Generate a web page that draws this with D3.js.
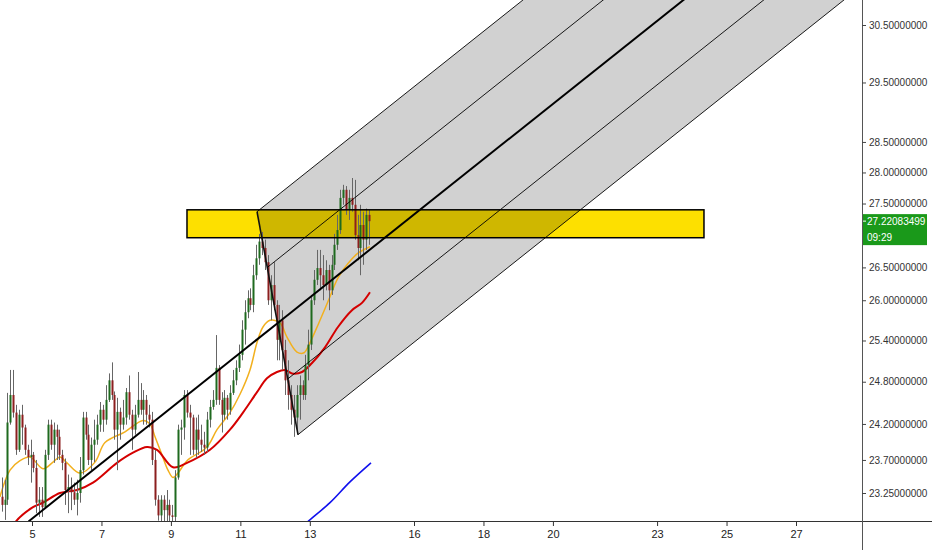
<!DOCTYPE html>
<html><head><meta charset="utf-8">
<script src="https://cdn.jsdelivr.net/npm/d3@7"></script>
<style>
body{margin:0;background:#fff;}
svg{display:block;}
.lbl{font-family:"Liberation Sans","DejaVu Sans",sans-serif;font-size:10px;}
</style>
</head><body>
<svg id="chart" width="932" height="550"></svg>
<script>
// ---------- DATA ----------
const startDay = 4.125;          // first candle (day of month)
const stepDay = 1 / 12;          // 2h candles
const opens = [23.20,23.09,23.16,24.22,24.61,24.36,23.84,24.33,24.15,23.84,
23.74,23.77,23.59,23.12,23.16,23.06,23.77,24.19,23.91,24.12,
24.02,23.77,23.66,23.29,23.33,23.26,23.16,23.25,23.56,24.29,
24.05,23.70,23.91,23.98,24.19,24.40,24.26,24.54,24.82,24.61,
24.12,24.37,24.19,24.29,24.65,24.33,24.12,24.33,24.54,24.40,
24.54,24.33,24.26,23.70,23.16,22.95,23.16,23.02,23.09,22.95,
22.93,23.46,24.12,24.15,24.61,24.36,24.29,23.84,24.12,23.98,
23.91,23.87,24.26,24.44,24.54,25.00,24.54,24.33,24.57,24.40,
24.64,24.82,25.00,25.19,25.56,25.82,26.03,25.93,26.38,26.64,
26.90,26.80,26.58,26.00,26.23,25.93,25.41,25.70,25.26,24.82,
24.61,24.40,24.29,24.61,24.75,24.61,25.04,25.34,26.00,26.31,
26.49,26.38,26.23,26.46,26.15,26.54,26.85,27.08,27.59,27.72,
27.40,27.59,27.48,27.00,26.80,27.16,26.93,27.32];
const highs = [23.46,23.43,24.64,24.97,24.97,24.47,24.40,24.47,24.19,23.91,
23.98,23.81,23.70,23.33,23.33,23.84,24.26,24.26,24.22,24.19,
24.12,23.84,23.72,23.50,23.46,23.39,23.43,23.74,24.37,24.37,
24.19,24.01,24.26,24.33,24.51,24.47,24.75,24.92,25.08,24.66,
24.57,24.43,24.54,24.71,24.89,24.40,24.47,24.94,24.78,24.68,
24.61,24.47,24.37,23.84,23.22,23.22,23.22,23.29,23.16,23.09,
23.56,24.19,24.26,24.68,24.68,24.47,24.33,24.29,24.33,24.19,
24.09,24.37,24.54,24.68,25.48,25.04,24.65,24.68,24.61,24.75,
24.97,25.11,25.34,25.70,26.00,26.15,26.18,26.54,26.85,27.02,
27.05,26.93,26.69,26.38,26.58,26.00,25.93,25.85,25.41,25.11,
24.75,24.61,24.75,24.89,24.82,25.19,25.56,26.08,26.46,26.77,
26.77,26.69,26.61,26.54,26.69,27.02,27.32,27.72,27.80,27.78,
27.72,27.91,27.88,27.32,27.48,27.37,27.42,27.40];
const lows = [23.00,22.89,23.09,24.19,24.29,23.77,23.81,23.91,23.77,23.63,
23.39,23.53,22.98,22.93,22.93,23.05,23.70,23.84,23.66,23.70,
23.70,23.56,23.09,22.98,23.02,23.09,22.95,23.12,23.50,23.98,
23.63,23.56,23.67,23.91,24.09,24.09,24.19,24.51,24.54,23.98,
23.56,23.98,24.12,24.19,24.26,23.84,24.05,24.29,24.33,24.19,
24.19,24.15,23.63,23.08,22.88,22.87,22.87,22.87,22.87,22.87,
22.87,23.43,23.77,23.98,24.29,23.77,23.77,23.73,23.77,23.81,
23.77,23.81,24.15,24.40,24.47,24.47,24.08,24.26,24.26,24.33,
24.61,24.75,24.94,25.11,25.34,25.73,25.85,25.82,26.31,26.54,
26.69,26.46,25.93,25.70,25.85,25.11,25.11,24.97,24.61,24.40,
24.19,24.02,24.05,24.26,24.54,24.54,24.82,25.26,25.93,26.23,
26.15,26.00,26.15,25.85,26.08,26.46,26.77,27.02,27.48,27.32,
27.24,27.37,26.93,26.61,26.38,26.54,26.77,26.85];
const closes = [23.09,23.16,24.22,24.61,24.36,23.84,24.33,24.15,23.84,23.74,
23.77,23.59,23.12,23.16,23.06,23.77,24.19,23.91,24.12,24.02,
23.77,23.66,23.29,23.33,23.26,23.16,23.25,23.56,24.29,24.05,
23.70,23.91,23.98,24.19,24.40,24.26,24.54,24.82,24.61,24.12,
24.37,24.19,24.29,24.65,24.33,24.12,24.33,24.54,24.40,24.54,
24.33,24.26,23.70,23.16,22.95,23.16,23.02,23.09,22.95,22.93,
23.46,24.12,24.15,24.61,24.36,24.29,23.84,24.12,23.98,23.91,
23.87,24.26,24.44,24.54,25.00,24.54,24.33,24.57,24.40,24.64,
24.82,25.00,25.19,25.56,25.82,26.03,25.93,26.38,26.64,26.90,
26.80,26.58,26.00,26.23,25.93,25.41,25.70,25.26,24.82,24.61,
24.40,24.29,24.61,24.75,24.61,25.04,25.34,26.00,26.31,26.49,
26.38,26.23,26.46,26.15,26.54,26.85,27.08,27.59,27.72,27.40,
27.59,27.48,27.00,26.80,27.16,26.93,27.32,27.22];

// moving averages (day, price)
const fastMaDays   = [4.079,4.367,4.654,4.942,5.317,5.605,5.806,6.008,6.382,6.814,7.102,7.678,8.196,8.398,8.542,8.743,8.916,9.060,9.204,9.463,10.039,10.327,10.701,10.989,11.277,11.479,11.651,11.853,12.141,12.342,12.630,12.832,13.005,13.235,13.523,13.811,14.099,14.387,14.732];
const fastMaValues = [23.20,23.56,23.69,23.74,23.58,23.67,23.74,23.66,23.52,23.67,23.94,24.09,24.25,24.20,24.02,23.77,23.56,23.46,23.52,23.69,23.88,24.12,24.36,24.62,24.97,25.37,25.60,25.70,25.66,25.45,25.23,25.22,25.37,25.63,25.98,26.34,26.56,26.72,26.82];
const slowMaDays   = [4.40,4.539,5.029,5.317,5.806,6.296,6.756,7.447,7.908,8.311,8.599,9.060,9.463,10.125,10.701,11.075,11.479,11.766,12.054,12.285,12.486,12.774,13.063,13.437,13.811,14.214,14.502,14.732];
const slowMaValues = [22.75,22.87,23.06,23.12,23.25,23.29,23.39,23.66,23.80,23.88,23.84,23.60,23.66,23.84,24.12,24.36,24.65,24.85,24.94,24.97,24.92,24.94,25.07,25.30,25.60,25.85,25.96,26.12];
const longMaDays   = [12.66,12.976,13.581,14.156,14.761];
const longMaValues = [22.75,22.88,23.12,23.40,23.66];

// drawings
const zoneTop = 27.40, zoneBottom = 26.96, zoneStart = 9.463, zoneEnd = 24.35;
const forkA = [4.90, 22.87], forkB = [11.48, 27.37], forkC = [12.659, 24.05];
const forkLevels = [1, 0.5, 0, -0.5, -1];

// axes
const xTicks = [5,7,9,11,13,16,18,20,23,25,27];
const yTicks = [30.5,29.5,28.5,28.0,27.5,26.5,26.0,25.4,24.8,24.2,23.7,23.25];
const lastPrice = 27.22083499, lastLabel2 = "09:29";

// ---------- CHART ----------
const W = 932, H = 550, plotR = 862, plotB = 521;
const svg = d3.select("#chart");
const x = d3.scaleLinear().domain([5, 27]).range([32, 796]);
const y = d3.scaleLog().domain([23.25, 30.5]).range([493, 25]);

svg.append("rect").attr("width", W).attr("height", H).attr("fill", "#fff");
svg.append("defs").append("clipPath").attr("id", "plot")
  .append("rect").attr("x", 0).attr("y", 0).attr("width", plotR).attr("height", plotB);
const g = svg.append("g").attr("clip-path", "url(#plot)");

// yellow zone
g.append("rect")
  .attr("x", x(zoneStart)).attr("y", y(zoneTop))
  .attr("width", x(zoneEnd) - x(zoneStart)).attr("height", y(zoneBottom) - y(zoneTop))
  .attr("fill", "#fde000");

// pitchfork geometry (pixel space)
const P = d => [x(d[0]), y(d[1])];
const pA = P(forkA), pB = P(forkB), pC = P(forkC);
const pM = [(pB[0] + pC[0]) / 2, (pB[1] + pC[1]) / 2];
let dir = [pM[0] - pA[0], pM[1] - pA[1]];
const dl = Math.hypot(dir[0], dir[1]); dir = [dir[0] / dl, dir[1] / dl];
const L = 2000;
const half = [pB[0] - pM[0], pB[1] - pM[1]];
const startOf = f => [pM[0] + f * half[0], pM[1] + f * half[1]];

g.append("path")
  .attr("d", d3.line()([pB, [pB[0] + dir[0] * L, pB[1] + dir[1] * L], [pC[0] + dir[0] * L, pC[1] + dir[1] * L], pC]) + "Z")
  .attr("fill", "rgba(0,0,0,0.18)");

// moving averages
const maLine = d3.line().x(d => x(d[0])).y(d => y(d[1])).curve(d3.curveCatmullRom);
g.append("path").attr("d", maLine(d3.zip(fastMaDays, fastMaValues)))
  .attr("fill", "none").attr("stroke", "#f2b01e").attr("stroke-width", 1.5);
g.append("path").attr("d", maLine(d3.zip(slowMaDays, slowMaValues)))
  .attr("fill", "none").attr("stroke", "#d40000").attr("stroke-width", 2);
g.append("path").attr("d", maLine(d3.zip(longMaDays, longMaValues)))
  .attr("fill", "none").attr("stroke", "#1010ee").attr("stroke-width", 1.6);

// candles
const candles = d3.range(opens.length).map(i => ({
  t: startDay + i * stepDay, o: opens[i], h: highs[i], l: lows[i], c: closes[i]
}));
const cg = g.append("g");
cg.selectAll("line.wick").data(candles).join("line")
  .attr("x1", d => Math.round(x(d.t)) + 0.5).attr("x2", d => Math.round(x(d.t)) + 0.5)
  .attr("y1", d => y(d.h)).attr("y2", d => y(d.l))
  .attr("stroke", "#666").attr("stroke-width", 1);
cg.selectAll("rect.body").data(candles).join("rect")
  .attr("x", d => Math.round(x(d.t)) - 0.5).attr("width", 2)
  .attr("y", d => y(Math.max(d.o, d.c)))
  .attr("height", d => Math.max(1, Math.abs(y(d.o) - y(d.c))))
  .attr("fill", d => d.c >= d.o ? "#1f6a1f" : "#8c1f1f");

// zone border
g.append("rect")
  .attr("x", x(zoneStart)).attr("y", y(zoneTop))
  .attr("width", x(zoneEnd) - x(zoneStart)).attr("height", y(zoneBottom) - y(zoneTop))
  .attr("fill", "none").attr("stroke", "#000").attr("stroke-width", 1.5);

// pitchfork lines
g.append("line").attr("x1", pB[0]).attr("y1", pB[1]).attr("x2", pC[0]).attr("y2", pC[1])
  .attr("stroke", "#111").attr("stroke-width", 1.6);
g.append("line").attr("x1", pA[0]).attr("y1", pA[1]).attr("x2", pM[0]).attr("y2", pM[1])
  .attr("stroke", "#000").attr("stroke-width", 2);
forkLevels.forEach(f => {
  const s = startOf(f);
  g.append("line").attr("x1", s[0]).attr("y1", s[1])
    .attr("x2", s[0] + dir[0] * L).attr("y2", s[1] + dir[1] * L)
    .attr("stroke", "#000").attr("stroke-width", f === 0 ? 2 : 0.9);
});

// axes
svg.append("line").attr("x1", 0).attr("x2", W).attr("y1", plotB + 0.5).attr("y2", plotB + 0.5)
  .attr("stroke", "#333").attr("stroke-width", 1);
svg.append("line").attr("x1", plotR + 0.5).attr("x2", plotR + 0.5).attr("y1", 0).attr("y2", H)
  .attr("stroke", "#555").attr("stroke-width", 1);

const xa = svg.append("g").attr("transform", `translate(0,${plotB})`)
  .call(d3.axisBottom(x).tickValues(xTicks).tickSize(5).tickPadding(4).tickFormat(d3.format("d")));
xa.select(".domain").remove();
xa.selectAll("line").attr("stroke", "#333");
xa.selectAll("text").attr("class", "lbl").attr("fill", "#222").style("font-size", "11px");

const ya = svg.append("g").attr("transform", `translate(${plotR},0)`)
  .call(d3.axisRight(y).tickValues(yTicks).tickSize(4).tickPadding(3).tickFormat(d => d.toFixed(8)));
ya.select(".domain").remove();
ya.selectAll("line").attr("stroke", "#444");
ya.selectAll("text").attr("class", "lbl").attr("fill", "#333");

// last price label
const ly = y(lastPrice);
svg.append("rect").attr("x", plotR + 1).attr("y", ly - 7).attr("width", 64).attr("height", 31)
  .attr("fill", "#1a991a");
svg.append("line").attr("x1", plotR + 1).attr("x2", plotR + 4).attr("y1", ly).attr("y2", ly).attr("stroke", "#fff");
svg.append("text").attr("class", "lbl").attr("x", plotR + 5).attr("y", ly + 4)
  .attr("fill", "#fff").text(lastPrice.toFixed(8));
svg.append("text").attr("class", "lbl").attr("x", plotR + 5).attr("y", ly + 20)
  .attr("fill", "#fff").text(lastLabel2);
</script>
</body></html>
